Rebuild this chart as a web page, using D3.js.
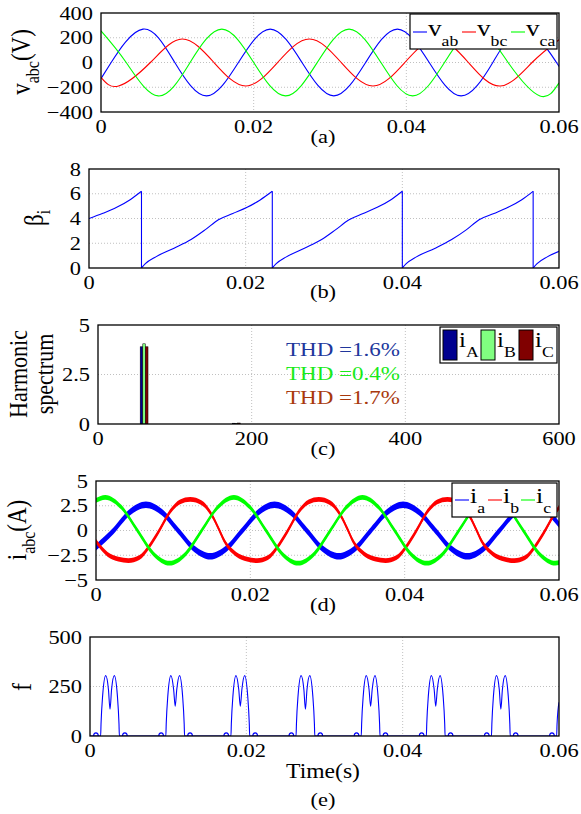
<!DOCTYPE html>
<html lang="en">
<head>
<meta charset="UTF-8">
<title>Converter waveforms</title>
<script src="https://d3js.org/d3.v7.min.js"></script>
<style>
  body { margin: 0; background: #fff; }
  svg { display: block; }
  text { font-family: "Liberation Serif", "Times New Roman", serif; }
</style>
</head>
<body>
<svg id="chart"></svg>
<script>
// ---- (a) line voltages
const vabT = [0, 0.00133, 0.0055, 0.00967, 0.01383, 0.018, 0.02217, 0.02633, 0.0305, 0.03467, 0.03883, 0.043, 0.04717, 0.05133, 0.0555, 0.05967, 0.06];
const vabV = [-130, 0, 270, 0, -270, 0, 270, 0, -270, 0, 270, 0, -270, 0, 270, 0, -20];
const vbcT = [0, 0.0023, 0.00647, 0.01063, 0.0148, 0.01897, 0.02313, 0.0273, 0.03147, 0.03563, 0.0398, 0.04397, 0.04813, 0.0523, 0.05647, 0.06];
const vbcV = [-120, -190, 0, 190, 0, -190, 0, 190, 0, -190, 0, 190, 0, -190, 0, 184];
const vcaT = [0, 0.0033, 0.0075, 0.01167, 0.01583, 0.02, 0.02417, 0.02833, 0.0325, 0.03667, 0.04083, 0.045, 0.04917, 0.05333, 0.0575, 0.06];
const vcaV = [255, 0, -270, 0, 270, 0, -270, 0, 270, 0, -270, 0, 270, 0, -270, -165];

// ---- (b) beta_i (a repeated t means a vertical jump)
const betaT = [0, 0.0017, 0.00354, 0.0052, 0.0067,
  0.0067, 0.0072, 0.00853, 0.01086, 0.01303, 0.01486, 0.01652, 0.01836, 0.02019, 0.02185, 0.0234,
  0.0234, 0.0239, 0.0252, 0.0275, 0.0297, 0.0315, 0.0332, 0.0350, 0.0368, 0.0385, 0.0400,
  0.0400, 0.0405, 0.0418, 0.0442, 0.0463, 0.0482, 0.0498, 0.0517, 0.0535, 0.0552, 0.0567,
  0.0567, 0.0572, 0.0585, 0.0600];
const betaV = [4.0, 4.4, 4.9, 5.5, 6.2,
  0, 0.35, 0.9, 1.6, 2.3, 3.1, 3.9, 4.4, 4.9, 5.5, 6.2,
  0, 0.35, 0.9, 1.6, 2.3, 3.1, 3.9, 4.4, 4.9, 5.5, 6.2,
  0, 0.35, 0.9, 1.6, 2.3, 3.1, 3.9, 4.4, 4.9, 5.5, 6.2,
  0, 0.35, 0.9, 1.35];

// ---- (c) harmonic spectrum
const harmFreq = [60, 180];
const harmA = [3.9, 0.04];
const harmB = [4.05, 0.03];
const harmC = [3.9, 0.05];
const thdLabels = ["THD =1.6%", "THD =0.4%", "THD =1.7%"];

// ---- (d) currents
const iaT = [0, 0.0023, 0.00438, 0.00647, 0.00855, 0.01063, 0.01272, 0.0148, 0.01688, 0.01897, 0.02105, 0.02313, 0.02522, 0.0273, 0.02938, 0.03147, 0.03355, 0.03563, 0.03772, 0.0398, 0.04188, 0.04397, 0.04605, 0.04813, 0.05022, 0.0523, 0.05438, 0.05647, 0.05855, 0.06];
const iaV = [-1.7, 0, 1.84, 2.6, 1.84, 0, -1.84, -2.6, -1.84, 0, 1.84, 2.6, 1.84, 0, -1.84, -2.6, -1.84, 0, 1.84, 2.6, 1.84, 0, -1.84, -2.6, -1.84, 0, 1.84, 2.6, 1.84, 0.6];
const ibT = [0, 0.0015, 0.0029, 0.0042, 0.0056, 0.0069, 0.0082, 0.0096, 0.0109, 0.0122, 0.0137, 0.0152, 0.0160,
  0.01667, 0.01817, 0.01957, 0.02087, 0.02227, 0.02357, 0.02487, 0.02627, 0.02757, 0.02887, 0.03037, 0.03187, 0.03267,
  0.03333, 0.03483, 0.03623, 0.03753, 0.03893, 0.04023, 0.04153, 0.04293, 0.04423, 0.04553, 0.04703, 0.04853, 0.04933,
  0.05, 0.0515, 0.0529, 0.0542, 0.0556, 0.0569, 0.0582, 0.0596, 0.06];
const ibV = [-1.1, -2.4, -2.9, -3.05, -2.75, -1.6, 0, 1.9, 2.9, 3.15, 2.8, 1.3, 0,
  -1.1, -2.4, -2.9, -3.05, -2.75, -1.6, 0, 1.9, 2.9, 3.15, 2.8, 1.3, 0,
  -1.1, -2.4, -2.9, -3.05, -2.75, -1.6, 0, 1.9, 2.9, 3.15, 2.8, 1.3, 0,
  -1.1, -2.4, -2.9, -3.05, -2.75, -1.6, 0, 1.9, 2.3];
const icT = [0, 0.0012, 0.00328, 0.00537, 0.00745, 0.00953, 0.01162, 0.0137, 0.01578, 0.01787, 0.01995, 0.02203, 0.02412, 0.0262, 0.02828, 0.03037, 0.03245, 0.03453, 0.03662, 0.0387, 0.04078, 0.04287, 0.04495, 0.04703, 0.04912, 0.0512, 0.05328, 0.05537, 0.05745, 0.05953, 0.06];
const icV = [3.05, 3.35, 2.35, 0, -2.35, -3.3, -2.35, 0, 2.35, 3.35, 2.35, 0, -2.35, -3.3, -2.35, 0, 2.35, 3.35, 2.35, 0, -2.35, -3.3, -2.35, 0, 2.35, 3.35, 2.35, 0, -2.35, -3.3, -3.25];

// ---- (e) switching frequency
const fT = [0,
  0.00136, 0.00141, 0.00161, 0.00201, 0.00236, 0.00256, 0.00276, 0.00311, 0.00351, 0.00371, 0.00376,
  0.0097, 0.00975, 0.00995, 0.01035, 0.0107, 0.0109, 0.0111, 0.01145, 0.01185, 0.01205, 0.0121,
  0.01803, 0.01808, 0.01828, 0.01868, 0.01903, 0.01923, 0.01943, 0.01978, 0.02018, 0.02038, 0.02043,
  0.02636, 0.02641, 0.02661, 0.02701, 0.02736, 0.02756, 0.02776, 0.02811, 0.02851, 0.02871, 0.02876,
  0.0347, 0.03475, 0.03495, 0.03535, 0.0357, 0.0359, 0.0361, 0.03645, 0.03685, 0.03705, 0.0371,
  0.04303, 0.04308, 0.04328, 0.04368, 0.04403, 0.04423, 0.04443, 0.04478, 0.04518, 0.04538, 0.04543,
  0.05136, 0.05141, 0.05161, 0.05201, 0.05236, 0.05256, 0.05276, 0.05311, 0.05351, 0.05371, 0.05376,
  0.0597, 0.05975, 0.06];
const fV = [0,
  0, 60, 200, 305, 235, 135, 235, 305, 200, 60, 0,
  0, 60, 200, 305, 235, 150, 235, 305, 200, 60, 0,
  0, 60, 200, 305, 235, 150, 235, 305, 200, 60, 0,
  0, 60, 200, 305, 235, 135, 235, 305, 200, 60, 0,
  0, 60, 200, 305, 235, 150, 235, 305, 200, 60, 0,
  0, 60, 200, 305, 235, 150, 235, 305, 200, 60, 0,
  0, 60, 200, 305, 235, 135, 235, 305, 200, 60, 0,
  0, 60, 170];
const fBumpT = [0.00076, 0.00446, 0.0091, 0.0128, 0.01743, 0.02113, 0.02576, 0.02946, 0.0341, 0.0378, 0.04243, 0.04613, 0.05076, 0.05446, 0.0591];
const fBumpV = 16;

const timeTicks = [0, 0.02, 0.04, 0.06];

// ------------------------------------------------------------
const SX = 1.18;   // source figure is stretched horizontally
const svg = d3.select("#chart").attr("width", 581).attr("height", 814);
const zip = (a, b) => a.map((v, i) => [v, b[i]]);
const minus = v => (v < 0 ? "\u2212" + Math.abs(v) : String(v));
let clipN = 0;

// parts: string or [[text, isSub], ...]
function txt(g, x, y, parts, o = {}) {
  const size = o.size || 19, sub = o.sub || 15, drop = o.drop || 8;
  const t = g.append("text")
    .attr("transform", `translate(${x},${y}) scale(${SX},1)` + (o.rot ? " rotate(-90)" : ""))
    .attr("text-anchor", o.anchor || "start")
    .attr("font-size", size)
    .attr("fill", o.color || "#000");
  if (typeof parts === "string") parts = [[parts]];
  let cur = 0;
  parts.forEach(([s, isSub]) => {
    const want = isSub ? drop : 0;
    t.append("tspan").attr("dy", want - cur).attr("font-size", isSub ? sub : size).text(s);
    cur = want;
  });
  return t;
}

function panel(box, xd, yd, xt, yt, xf, yf) {
  const x = d3.scaleLinear().domain(xd).range([box.l, box.r]);
  const y = d3.scaleLinear().domain(yd).range([box.b, box.t]);
  const g = svg.append("g");
  const id = "clip" + (++clipN);
  svg.append("clipPath").attr("id", id).append("rect")
    .attr("x", box.l).attr("y", box.t).attr("width", box.r - box.l).attr("height", box.b - box.t);

  const grid = g.append("g").attr("stroke", "#b0b0b0").attr("stroke-width", 0.8).attr("stroke-dasharray", "1,2");
  grid.selectAll(".gx").data(xt.filter(v => v > xd[0] && v < xd[1])).join("line")
    .attr("x1", d => x(d)).attr("x2", d => x(d)).attr("y1", box.t).attr("y2", box.b);
  grid.selectAll(".gy").data(yt.filter(v => v > yd[0] && v < yd[1])).join("line")
    .attr("y1", d => y(d)).attr("y2", d => y(d)).attr("x1", box.l).attr("x2", box.r);

  xt.forEach(v => txt(g, x(v), box.b + 21, xf(v), { anchor: "middle" }));
  yt.forEach(v => txt(g, box.l - 8, y(v) + 6.5, yf(v), { anchor: "end" }));

  const plot = g.append("g").attr("clip-path", `url(#${id})`);
  const frame = () => g.append("rect")
    .attr("x", box.l).attr("y", box.t).attr("width", box.r - box.l).attr("height", box.b - box.t)
    .attr("fill", "none").attr("stroke", "#000").attr("stroke-width", 1.3);
  return { x, y, g, plot, frame, box };
}

const tFmt = v => String(v);
const CAPX = 323;

// ---------------- (a)
const pa = panel({ l: 101, r: 559, t: 13, b: 112 }, [0, 0.06], [-400, 400], timeTicks, [-400, -200, 0, 200, 400], tFmt, minus);
const lineA = d3.line().curve(d3.curveNatural).x(d => pa.x(d[0])).y(d => pa.y(d[1]));
const seriesA = [[vabT, vabV, "#0000ff"], [vbcT, vbcV, "#ff0000"], [vcaT, vcaV, "#00ff00"]];
seriesA.forEach(([t, v, c]) => pa.plot.append("path").attr("d", lineA(zip(t, v)))
  .attr("fill", "none").attr("stroke", c).attr("stroke-width", 1.1));
pa.frame();
txt(pa.g, 30, 62, [["v"], ["abc", 1], ["(V)"]], { rot: 1, anchor: "middle", size: 23, sub: 16, drop: 8 });
txt(pa.g, CAPX, 143, "(a)", { anchor: "middle" });
const legA = pa.g.append("g");
legA.append("rect").attr("x", 410).attr("y", 14).attr("width", 147).attr("height", 35)
  .attr("fill", "#fff").attr("stroke", "#000").attr("stroke-width", 1.2);
[["ab", "#0000ff"], ["bc", "#ff0000"], ["ca", "#00ff00"]].forEach(([s, c], i) => {
  const x0 = 413 + i * 49;
  legA.append("line").attr("x1", x0).attr("x2", x0 + 14).attr("y1", 32).attr("y2", 32).attr("stroke", c).attr("stroke-width", 1.1);
  txt(legA, x0 + 15, 36, [["v"], [s, 1]], { size: 23, sub: 15, drop: 10 });
});

// ---------------- (b)
const pb = panel({ l: 89, r: 559, t: 169, b: 268 }, [0, 0.06], [0, 8], timeTicks, [0, 2, 4, 6, 8], tFmt, String);
const lineB = d3.line().curve(d3.curveMonotoneX).x(d => pb.x(d[0])).y(d => pb.y(d[1]));
const betaPts = zip(betaT, betaV);
const segs = [[]];
betaPts.forEach((p, i) => {
  if (i > 0 && p[0] === betaPts[i - 1][0]) {
    pb.plot.append("line").attr("x1", pb.x(p[0])).attr("x2", pb.x(p[0]))
      .attr("y1", pb.y(betaPts[i - 1][1])).attr("y2", pb.y(p[1]))
      .attr("stroke", "#0000ff").attr("stroke-width", 1.1);
    segs.push([]);
  }
  segs[segs.length - 1].push(p);
});
segs.forEach(s => pb.plot.append("path").attr("d", lineB(s)).attr("fill", "none").attr("stroke", "#0000ff").attr("stroke-width", 1.1));
pb.frame();
txt(pb.g, 43, 218, [["\u03b2"], ["i", 1]], { rot: 1, anchor: "middle", size: 23, sub: 16, drop: 6 });
txt(pb.g, CAPX, 298, "(b)", { anchor: "middle" });

// ---------------- (c)
const pc = panel({ l: 98, r: 559, t: 325, b: 424 }, [0, 600], [0, 5], [0, 200, 400, 600], [0, 2.5, 5], String, String);
const barW = 3.4;
const barSeries = [[harmA, "#00008f"], [harmB, "#80ff80"], [harmC, "#800000"]];
barSeries.forEach(([vals, c], k) => {
  pc.plot.selectAll(null).data(harmFreq.map((f, i) => [f, vals[i]])).join("rect")
    .attr("x", d => pc.x(d[0] + (k - 1.5) * barW))
    .attr("width", pc.x(barW) - pc.x(0))
    .attr("y", d => pc.y(d[1]))
    .attr("height", d => pc.y(0) - pc.y(d[1]))
    .attr("fill", c).attr("stroke", "#000").attr("stroke-width", 0.5);
});
pc.frame();
const thdColors = ["#20369c", "#19ea19", "#a8380c"];
thdLabels.forEach((s, i) => txt(pc.g, 286, 356 + i * 24, s, { size: 19.5, color: thdColors[i] }));
const legC = pc.g.append("g");
legC.append("rect").attr("x", 440).attr("y", 327).attr("width", 117).attr("height", 36)
  .attr("fill", "#fff").attr("stroke", "#000").attr("stroke-width", 1.2);
[["A", "#00008f"], ["B", "#80ff80"], ["C", "#800000"]].forEach(([s, c], i) => {
  const x0 = 443 + i * 38;
  legC.append("rect").attr("x", x0).attr("y", 330).attr("width", 14).attr("height", 30)
    .attr("fill", c).attr("stroke", "#000").attr("stroke-width", 1);
  txt(legC, x0 + 16, 347, [["i"], [s, 1]], { size: 21, sub: 15, drop: 10 });
});
txt(pc.g, 27, 374, "Harmonic", { rot: 1, anchor: "middle", size: 22 });
txt(pc.g, 53, 374, "spectrum", { rot: 1, anchor: "middle", size: 22 });
txt(pc.g, CAPX, 455, "(c)", { anchor: "middle" });

// ---------------- (d)
const pd = panel({ l: 96, r: 559, t: 481, b: 580 }, [0, 0.06], [-5, 5], timeTicks, [-5, -2.5, 0, 2.5, 5], tFmt, minus);
const seriesD = [[iaT, iaV, "#0000ff", 0.32], [ibT, ibV, "#ff0000", 0.24], [icT, icV, "#00ff00", 0.24]];
seriesD.forEach(([t, v, c, r]) => {
  const pts = zip(t, v);
  const band = d3.area().curve(d3.curveMonotoneX).x(d => pd.x(d[0]))
    .y0(d => pd.y(d[1] - r)).y1(d => pd.y(d[1] + r));
  const line = d3.line().curve(d3.curveMonotoneX).x(d => pd.x(d[0])).y(d => pd.y(d[1]));
  pd.plot.append("path").attr("d", band(pts)).attr("fill", c);
  pd.plot.append("path").attr("d", line(pts)).attr("fill", "none").attr("stroke", c).attr("stroke-width", 1.6);
});
pd.frame();
const legD = pd.g.append("g");
legD.append("rect").attr("x", 452).attr("y", 483).attr("width", 105).attr("height", 34)
  .attr("fill", "#fff").attr("stroke", "#000").attr("stroke-width", 1.2);
[["a", "#0000ff"], ["b", "#ff0000"], ["c", "#00ff00"]].forEach(([s, c], i) => {
  const x0 = 455 + i * 33;
  legD.append("line").attr("x1", x0).attr("x2", x0 + 14).attr("y1", 500).attr("y2", 500).attr("stroke", c).attr("stroke-width", 1.1);
  txt(legD, x0 + 15, 503, [["i"], [s, 1]], { size: 22, sub: 15, drop: 10 });
});
txt(pd.g, 26, 530, [["i"], ["abc", 1], ["(A)"]], { rot: 1, anchor: "middle", size: 23, sub: 16 });
txt(pd.g, CAPX, 611, "(d)", { anchor: "middle" });

// ---------------- (e)
const pe = panel({ l: 90, r: 559, t: 637, b: 736 }, [0, 0.06], [0, 500], timeTicks, [0, 250, 500], tFmt, String);
const lineE = d3.line().curve(d3.curveMonotoneX).x(d => pe.x(d[0])).y(d => pe.y(d[1]));
pe.plot.append("path").attr("d", lineE(zip(fT, fV))).attr("fill", "none").attr("stroke", "#0000ff").attr("stroke-width", 1.1);
pe.plot.selectAll(null).data(fBumpT).join("path")
  .attr("d", t => `M${pe.x(t - 0.0003)},${pe.y(0)} C${pe.x(t - 0.0003)},${pe.y(fBumpV * 1.33)} ${pe.x(t + 0.0003)},${pe.y(fBumpV * 1.33)} ${pe.x(t + 0.0003)},${pe.y(0)}`)
  .attr("fill", "none").attr("stroke", "#0000ff").attr("stroke-width", 1.1);
pe.frame();
txt(pe.g, 31, 687, "f", { rot: 1, anchor: "middle", size: 24 });
txt(pe.g, CAPX, 778, "Time(s)", { size: 20, anchor: "middle" });
txt(pe.g, CAPX, 806, "(e)", { anchor: "middle" });
</script>
</body>
</html>
